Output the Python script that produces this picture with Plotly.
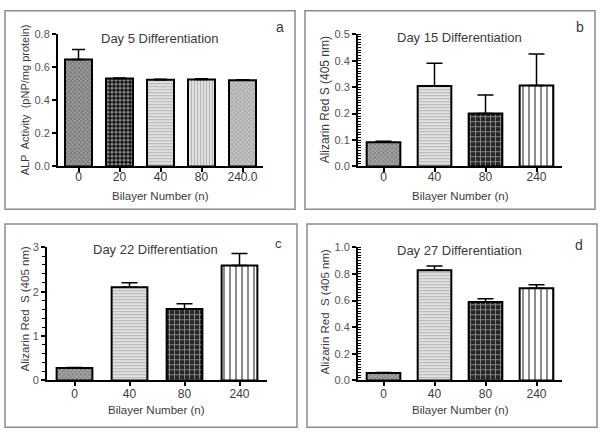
import plotly.graph_objects as go

W, H = 602, 439

# ---- data ----
cats_a = ["0", "20", "40", "80", "240.0"]
vals_a = [0.647, 0.532, 0.525, 0.526, 0.522]
err_a = [0.06, 0.003, 0.002, 0.005, 0.003]

cats_bcd = ["0", "40", "80", "240"]
vals_b = [0.092, 0.304, 0.200, 0.306]
err_b = [0.003, 0.086, 0.070, 0.119]

vals_c = [0.28, 2.10, 1.61, 2.59]
err_c = [0.01, 0.10, 0.12, 0.27]

vals_d = [0.056, 0.827, 0.589, 0.693]
err_d = [0.003, 0.032, 0.024, 0.025]

titles = ["Day 5 Differentiation", "Day 15 Differentiation",
          "Day 22 Differentiation", "Day 27 Differentiation"]
letters = ["a", "b", "c", "d"]
xlabel = "Bilayer Number (n)"
ylabel_a = "ALP  Activity  (pNP/mg protein)"
ylabel_b = "Alizarin Red S (405 nm)"
ylabel_cd = "Alizarin Red  S (405 nm)"

FONT = "Arial, Liberation Sans, sans-serif"
TXT = "#3a3a3a"

# patterns: (shape, fg, bg, size, solidity)
pat_a = [
    ("x", "#333333", "#9a9a9a", 3, 0.4),
    (".", "white", "#111111", 4, 0.5),
    ("-", "#8a8a8a", "#e4e4e4", 3, 0.4),
    ("|", "#8a8a8a", "#e4e4e4", 3, 0.4),
    ("x", "#6a6a6a", "#c4c4c4", 3, 0.35),
]
pat_bcd = [
    ("x", "#444444", "#a4a4a4", 3, 0.4),
    ("-", "#7a7a7a", "#e8e8e8", 3, 0.4),
    ("+", "white", "#262626", 5, 0.3),
    ("|", "black", "white", 6, 0.3),
]

def px_x(x):
    return x / W

def px_y(y):
    return 1 - y / H

fig = go.Figure()

panels = [
    dict(c=cats_a, v=vals_a, e=err_a, p=pat_a, x0=58, x1=263, yt=29, yb=165,
         rng=[0, 0.8], dt=0.2, fmt=".1f", minor=None, bw=0.66, cap=6.5, ax="", so=-6),
    dict(c=cats_bcd, v=vals_b, e=err_b, p=pat_bcd, x0=358, x1=562, yt=29, yb=165,
         rng=[0, 0.5], dt=0.1, fmt=".1f", minor=dict(dtick=0.01, ticks="inside"), bw=0.66, cap=8, ax="2", so=-6),
    dict(c=cats_bcd, v=vals_c, e=err_c, p=pat_bcd, x0=47, x1=267, yt=248, yb=385,
         rng=[0, 3], dt=1, fmt="d", minor=dict(dtick=0.2, ticks="outside"), bw=0.65, cap=8, ax="3", so=-3),
    dict(c=cats_bcd, v=vals_d, e=err_d, p=pat_bcd, x0=358, x1=562, yt=248, yb=385,
         rng=[0, 1.0], dt=0.2, fmt=".1f", minor=dict(dtick=0.02, ticks="inside"), bw=0.66, cap=8, ax="4", so=-3),
]

for pn in panels:
    ax = pn["ax"]
    for j, (cat, val, er) in enumerate(zip(pn["c"], pn["v"], pn["e"])):
        shp, fg, bg, sz, sol = pn["p"][j]
        fig.add_trace(go.Bar(
            x=[j], y=[val], width=pn["bw"],
            marker=dict(
                color=bg,
                line=dict(color="black", width=2),
                pattern=dict(shape=shp, fgcolor=fg, bgcolor=bg, size=sz,
                             solidity=sol, fillmode="overlay"),
            ),
            error_y=dict(type="data", array=[er], arrayminus=[0], symmetric=False,
                         color="black", thickness=1.5, width=pn["cap"]),
            xaxis="x" + ax, yaxis="y" + ax, showlegend=False, name=cat,
        ))
    xa = dict(
        domain=[px_x(pn["x0"]), px_x(pn["x1"])],
        anchor="y" + ax,
        range=[-0.5, len(pn["c"]) - 0.5],
        tickmode="array", tickvals=list(range(len(pn["c"]))), ticktext=pn["c"],
        showline=True, linecolor="black", linewidth=2,
        ticks="outside", ticklen=4, tickwidth=1.5, tickcolor="black",
        ticklabelstandoff=pn["so"],
        showgrid=False, zeroline=False,
        tickfont=dict(family=FONT, size=12, color=TXT),
        fixedrange=True,
    )
    ya = dict(
        domain=[px_y(pn["yb"]), px_y(pn["yt"])],
        anchor="x" + ax,
        range=pn["rng"], dtick=pn["dt"], tick0=0,
        tickformat=pn["fmt"],
        showline=True, linecolor="black", linewidth=2,
        ticks="outside", ticklen=4, tickwidth=1.5, tickcolor="black",
        showgrid=False, zeroline=False,
        tickfont=dict(family=FONT, size=11, color="#555555"),
        fixedrange=True,
    )
    if pn["minor"]:
        ya["minor"] = dict(dtick=pn["minor"]["dtick"], tick0=0, ticks=pn["minor"]["ticks"],
                           ticklen=3, tickwidth=1.2, tickcolor="black", showgrid=False)
    fig.update_layout(**{"xaxis" + ax: xa, "yaxis" + ax: ya})

# frames around each panel
frames = [(5, 5, 295, 209), (305, 5, 595, 209), (5, 224, 297, 433), (307, 224, 597, 433)]
for (x0, y0, x1, y1) in frames:
    fig.add_shape(type="rect", xref="paper", yref="paper",
                  x0=px_x(x0), x1=px_x(x1), y0=px_y(y1), y1=px_y(y0),
                  line=dict(color="#8c8c8c", width=1.5), fillcolor="rgba(0,0,0,0)")

def ann(text, x, y, size, angle=0):
    fig.add_annotation(text=text, x=px_x(x), y=px_y(y), xref="paper", yref="paper",
                       showarrow=False, textangle=angle, xanchor="center", yanchor="middle",
                       font=dict(family=FONT, size=size, color=TXT))

# titles
ann(titles[0], 160, 33, 13)
ann(titles[1], 459, 32, 13)
ann(titles[2], 155, 250, 13)
ann(titles[3], 459, 251, 13)
# letters
ann(letters[0], 280, 22, 14)
ann(letters[1], 580, 22, 14)
ann(letters[2], 278, 244, 13)
ann(letters[3], 579, 246, 14)
# x titles
ann(xlabel, 160, 195, 11.5)
ann(xlabel, 460, 195, 11.5)
ann(xlabel, 156, 415, 11.5)
ann(xlabel, 460, 415, 11.5)
# y titles
ann(ylabel_a, 25, 97, 11, -90)
ann(ylabel_b, 325, 97, 12, -90)
ann(ylabel_cd, 25, 312, 11.5, -90)
ann(ylabel_cd, 325, 315, 11.5, -90)

fig.update_layout(
    width=W, height=H,
    margin=dict(l=0, r=0, t=0, b=0),
    paper_bgcolor="white", plot_bgcolor="white",
    barmode="overlay",
    font=dict(family=FONT, color=TXT),
)

fig.write_html("out.html", config={"displayModeBar": False},
               post_script="document.body.style.margin='0';")
